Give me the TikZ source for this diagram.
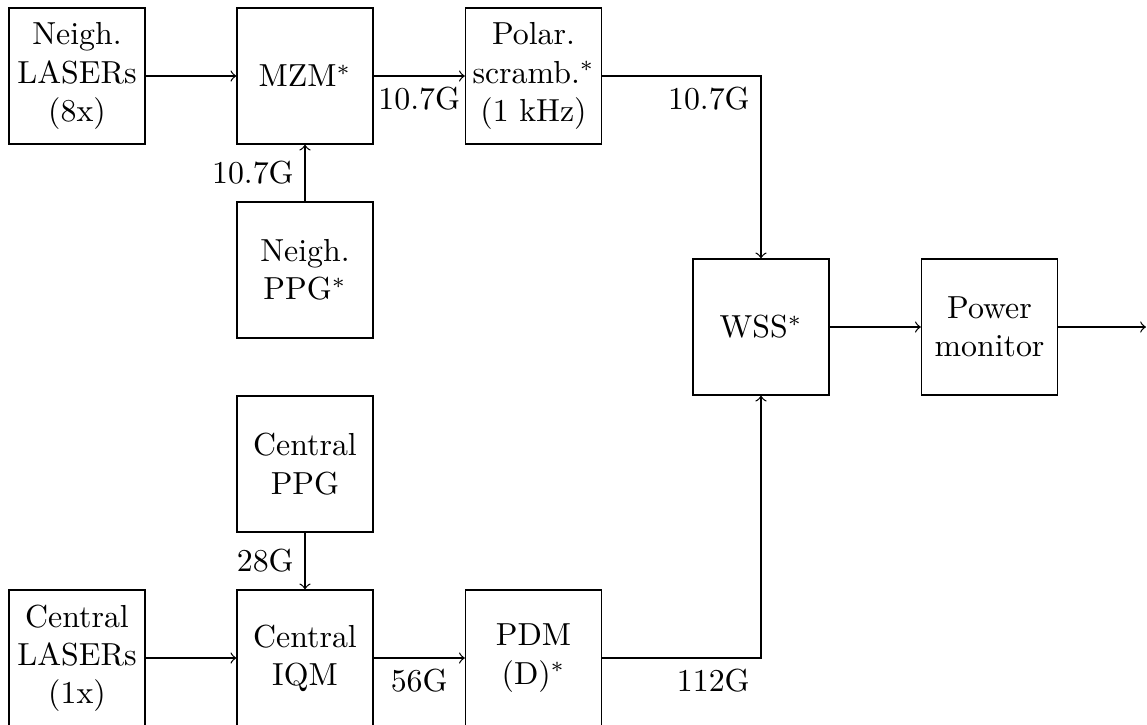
\documentclass[tikz,border=0pt]{standalone}
\begin{document}
\begin{tikzpicture}[x=0.011025cm,y=-0.011025cm,
  blk/.style={draw, minimum size=1.5cm, align=center, inner sep=1pt},
  conn/.style={->}]
\useasboundingbox (0,0) rectangle (1147,724);
\node[blk] (nl)   at (77,76)    {Neigh.\\LASERs\\(8x)};
\node[blk] (mzm)  at (305,76)   {MZM$^*$};
\node[blk] (pol)  at (533.5,76) {Polar.\\scramb.$^*$\\(1 kHz)};
\node[blk] (nppg) at (305,270)  {Neigh.\\PPG$^*$};
\node[blk] (wss)  at (761,327)  {WSS$^*$};
\node[blk] (pm)   at (989.5,327) {Power\\monitor};
\node[blk] (cppg) at (305,464)  {Central\\PPG};
\node[blk] (cl)   at (77,658)   {Central\\LASERs\\(1x)};
\node[blk] (iqm)  at (305,658)  {Central\\IQM};
\node[blk] (pdm)  at (533.5,658) {PDM\\(D)$^*$};
\coordinate (out) at (1146,327);
\coordinate (c1) at (wss.north |- pol.east);
\coordinate (c2) at (wss.south |- pdm.east);

\draw[conn] (nl) -- (mzm);
\draw[conn] (mzm) -- node[below] {10.7G} (pol);
\draw[conn] (nppg) -- node[left] {10.7G} (mzm);
\draw[conn] (pol.east) -- (c1) node[below left] {10.7G} -- (wss.north);
\draw[conn] (cppg) -- node[left] {28G} (iqm);
\draw[conn] (cl) -- (iqm);
\draw[conn] (iqm) -- node[below] {56G} (pdm);
\draw[conn] (pdm.east) -- (c2) node[below left] {112G} -- (wss.south);
\draw[conn] (wss) -- (pm);
\draw[conn] (pm) -- (out);
\end{tikzpicture}
\end{document}
